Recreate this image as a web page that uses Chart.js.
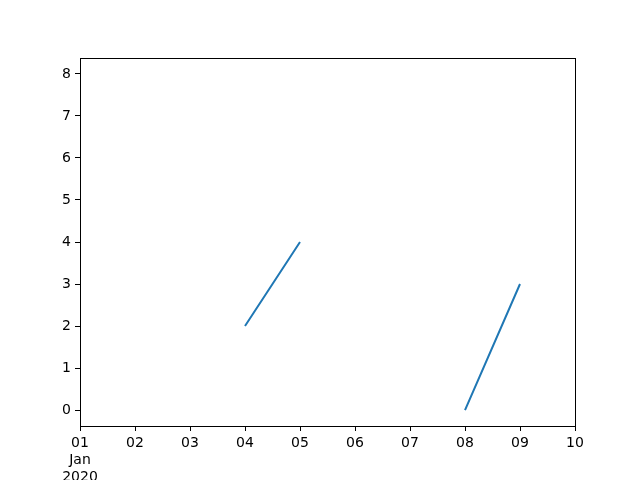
<!DOCTYPE html>
<html lang="en">
<head>
  <meta charset="UTF-8">
  <title>Date line chart</title>
  <script src="https://cdn.jsdelivr.net/npm/chart.js"></script>
  <style>
    html, body { margin: 0; padding: 0; background: #fff; }
    #wrap { width: 640px; height: 480px; }
  </style>
</head>
<body>
  <div id="wrap"><canvas id="chart" width="640" height="480"></canvas></div>
  <script>
    // day of January 2020 and the value on that day (null = no value)
    const days = [1, 2, 3, 4, 5, 6, 7, 8, 9, 10];
    const values = [null, null, null, 2, 4, null, null, 0, 3, null];
    const dayTicks = ['01', '02', '03', '04', '05', '06', '07', '08', '09', '10'];
    const yTicks = [0, 1, 2, 3, 4, 5, 6, 7, 8];

    const points = days.map((d, i) => ({ x: d, y: values[i] }));

    // black frame round the plot area, like matplotlib's spines
    const frame = {
      id: 'frame',
      afterDraw(chart) {
        const a = chart.chartArea;
        const c = chart.ctx;
        c.save();
        c.strokeStyle = '#000';
        c.lineWidth = 1;
        c.strokeRect(Math.round(a.left) + 0.5, Math.round(a.top) + 0.5,
          Math.round(a.right - a.left), Math.round(a.bottom - a.top));
        c.restore();
      }
    };

    const font = { family: 'DejaVu Sans', size: 14, lineHeight: 1.2 };

    new Chart(document.getElementById('chart'), {
      type: 'line',
      data: {
        datasets: [{
          data: points,
          borderColor: '#1f77b4',
          borderWidth: 2,
          pointRadius: 0,
          fill: false,
          spanGaps: false,
          tension: 0
        }]
      },
      options: {
        responsive: false,
        animation: false,
        layout: { padding: { left: 0, right: 65, top: 58, bottom: 0 } },
        plugins: { legend: { display: false }, tooltip: { enabled: false } },
        scales: {
          x: {
            type: 'linear',
            min: 1,
            max: 10,
            afterBuildTicks: (ax) => { ax.ticks = days.map(v => ({ value: v })); },
            afterFit: (ax) => { ax.height = 54; },
            grid: { drawOnChartArea: false, tickLength: 5, color: '#000' },
            border: { color: '#000' },
            ticks: {
              color: '#000',
              font: font,
              padding: 4,
              maxRotation: 0,
              autoSkip: false,
              callback: (v, i) => i === 0 ? [dayTicks[i], 'Jan', '2020'] : dayTicks[i]
            }
          },
          y: {
            min: -0.38,
            max: 8.38,
            afterBuildTicks: (ax) => { ax.ticks = yTicks.map(v => ({ value: v })); },
            afterFit: (ax) => { ax.width = 80; },
            grid: { drawOnChartArea: false, tickLength: 5, color: '#000' },
            border: { color: '#000' },
            ticks: { color: '#000', font: font, padding: 4 }
          }
        }
      },
      plugins: [frame]
    });
  </script>
</body>
</html>
